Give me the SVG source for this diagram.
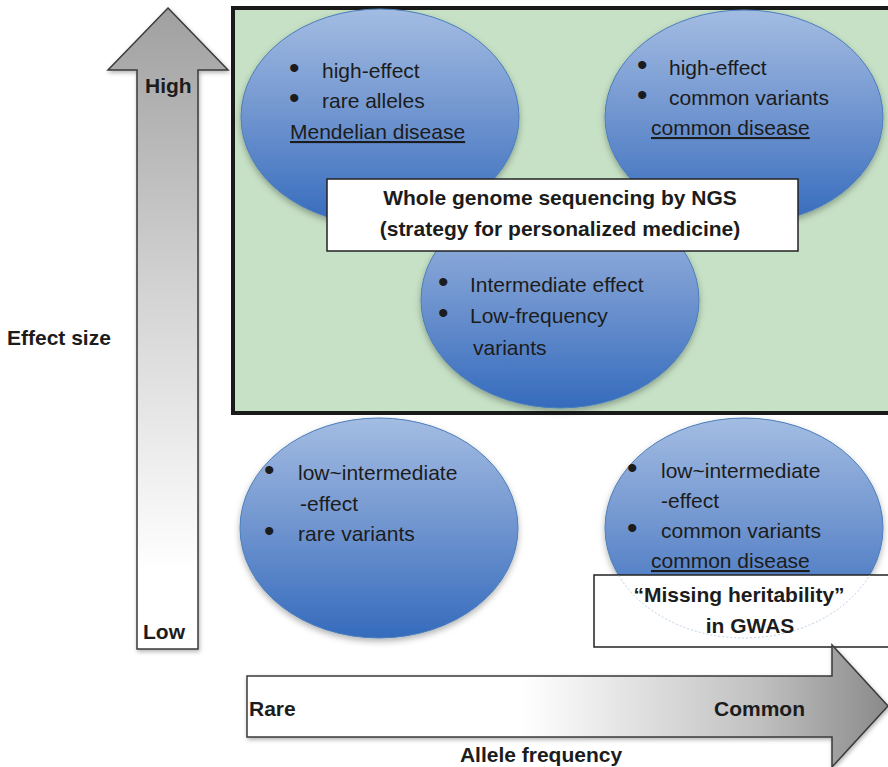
<svg xmlns="http://www.w3.org/2000/svg" width="888" height="767" viewBox="0 0 888 767">
<style>
.t{font-family:"Liberation Sans",Arial,sans-serif;font-size:21px;fill:#1c1c1c}
.bl{font-family:"Liberation Sans",Arial,sans-serif;font-size:30px;fill:#1c1c1c}
.b{font-weight:bold}
.u{text-decoration:underline}
.ell{fill:url(#eg);stroke:#4a7ebb;stroke-width:1;filter:url(#sh)}
.box{fill:#fff;stroke:#222;stroke-width:1.5}
.arr{stroke:#3a3a3a;stroke-width:1.5;filter:url(#sh2)}
</style>
<defs>
<linearGradient id="eg" x1="0" y1="0" x2="0" y2="1">
<stop offset="0" stop-color="#a3bce2"/>
<stop offset="0.5" stop-color="#6f94cf"/>
<stop offset="1" stop-color="#356bbd"/>
</linearGradient>
<linearGradient id="vg" x1="0" y1="0" x2="0" y2="1">
<stop offset="0" stop-color="#a0a0a0"/>
<stop offset="0.45" stop-color="#d4d4d4"/>
<stop offset="0.88" stop-color="#ffffff"/>
<stop offset="1" stop-color="#ffffff"/>
</linearGradient>
<linearGradient id="hg" x1="247" y1="0" x2="888" y2="0" gradientUnits="userSpaceOnUse">
<stop offset="0" stop-color="#ffffff"/>
<stop offset="0.43" stop-color="#ffffff"/>
<stop offset="0.8" stop-color="#c0c0c0"/>
<stop offset="1" stop-color="#8a8a8a"/>
</linearGradient>
<filter id="sh" x="-10%" y="-10%" width="120%" height="125%">
<feDropShadow dx="0" dy="3" stdDeviation="3" flood-color="#000" flood-opacity="0.3"/>
</filter>
<filter id="sh2" x="-10%" y="-10%" width="120%" height="120%">
<feDropShadow dx="1" dy="2" stdDeviation="2" flood-color="#000" flood-opacity="0.3"/>
</filter>
<clipPath id="mbclip"><rect x="594" y="575" width="294" height="72"/></clipPath>
</defs>

<g id="axis-effect">
<polygon class="arr" fill="url(#vg)" points="168,8 228,70 198,70 198,649 137,649 137,70 108,70"/>
<text class="t b" x="145" y="93">High</text>
<text class="t b" x="143" y="639">Low</text>
</g>
<text class="t b" x="7" y="345">Effect size</text>

<g id="wgs-region">
<rect x="233" y="8" width="662" height="405" fill="#c6e1c5" stroke="#1a1a1a" stroke-width="4"/>
</g>

<g id="node-mendelian">
<ellipse class="ell" cx="380" cy="117" rx="139" ry="108"/>
<text class="bl" x="289" y="78">•</text>
<text class="t" x="322" y="78">high-effect</text>
<text class="bl" x="289" y="108">•</text>
<text class="t" x="322" y="108">rare alleles</text>
<text class="t u" x="290" y="139">Mendelian disease</text>
</g>

<g id="node-high-common">
<ellipse class="ell" cx="744" cy="117" rx="139" ry="107"/>
<text class="bl" x="637" y="75">•</text>
<text class="t" x="669" y="75">high-effect</text>
<text class="bl" x="637" y="105">•</text>
<text class="t" x="669" y="105">common variants</text>
<text class="t u" x="651" y="135">common disease</text>
</g>

<g id="node-intermediate">
<ellipse class="ell" cx="560" cy="300" rx="139" ry="108"/>
<text class="bl" x="438" y="292">•</text>
<text class="t" x="470" y="292">Intermediate effect</text>
<text class="bl" x="438" y="323">•</text>
<text class="t" x="470" y="323">Low-frequency</text>
<text class="t" x="473" y="355">variants</text>
</g>

<g id="node-wgs">
<rect class="box" x="327" y="179" width="471" height="72"/>
<text class="t b" x="560" y="205" text-anchor="middle">Whole genome sequencing by NGS</text>
<text class="t b" x="560" y="236" text-anchor="middle">(strategy for personalized medicine)</text>
</g>

<g id="node-rare-low">
<ellipse class="ell" cx="379" cy="528" rx="139" ry="110"/>
<text class="bl" x="264" y="480">•</text>
<text class="t" x="298" y="480">low~intermediate</text>
<text class="t" x="300" y="511">-effect</text>
<text class="bl" x="264" y="541">•</text>
<text class="t" x="298" y="541">rare variants</text>
</g>

<g id="node-common-low">
<ellipse class="ell" cx="744" cy="528" rx="139" ry="110"/>
<text class="bl" x="627" y="478">•</text>
<text class="t" x="661" y="478">low~intermediate</text>
<text class="t" x="661" y="508">-effect</text>
<text class="bl" x="627" y="538">•</text>
<text class="t" x="661" y="538">common variants</text>
<text class="t u" x="651" y="568">common disease</text>
</g>

<g id="node-missing">
<rect class="box" x="594" y="575" width="300" height="72"/>
<ellipse cx="744" cy="528" rx="139" ry="110" fill="none" stroke="#bccfe8" stroke-width="1" stroke-dasharray="2 2" clip-path="url(#mbclip)"/>
<text class="t b" x="739" y="602" text-anchor="middle">“Missing heritability”</text>
<text class="t b" x="750" y="633" text-anchor="middle">in GWAS</text>
</g>

<g id="axis-frequency">
<polygon class="arr" fill="url(#hg)" points="247,676 832,676 832,645 888,706 832,767 832,737 247,737"/>
<text class="t b" x="249" y="716">Rare</text>
<text class="t b" x="805" y="716" text-anchor="end">Common</text>
</g>
<text class="t b" x="541" y="762" text-anchor="middle">Allele frequency</text>
</svg>
